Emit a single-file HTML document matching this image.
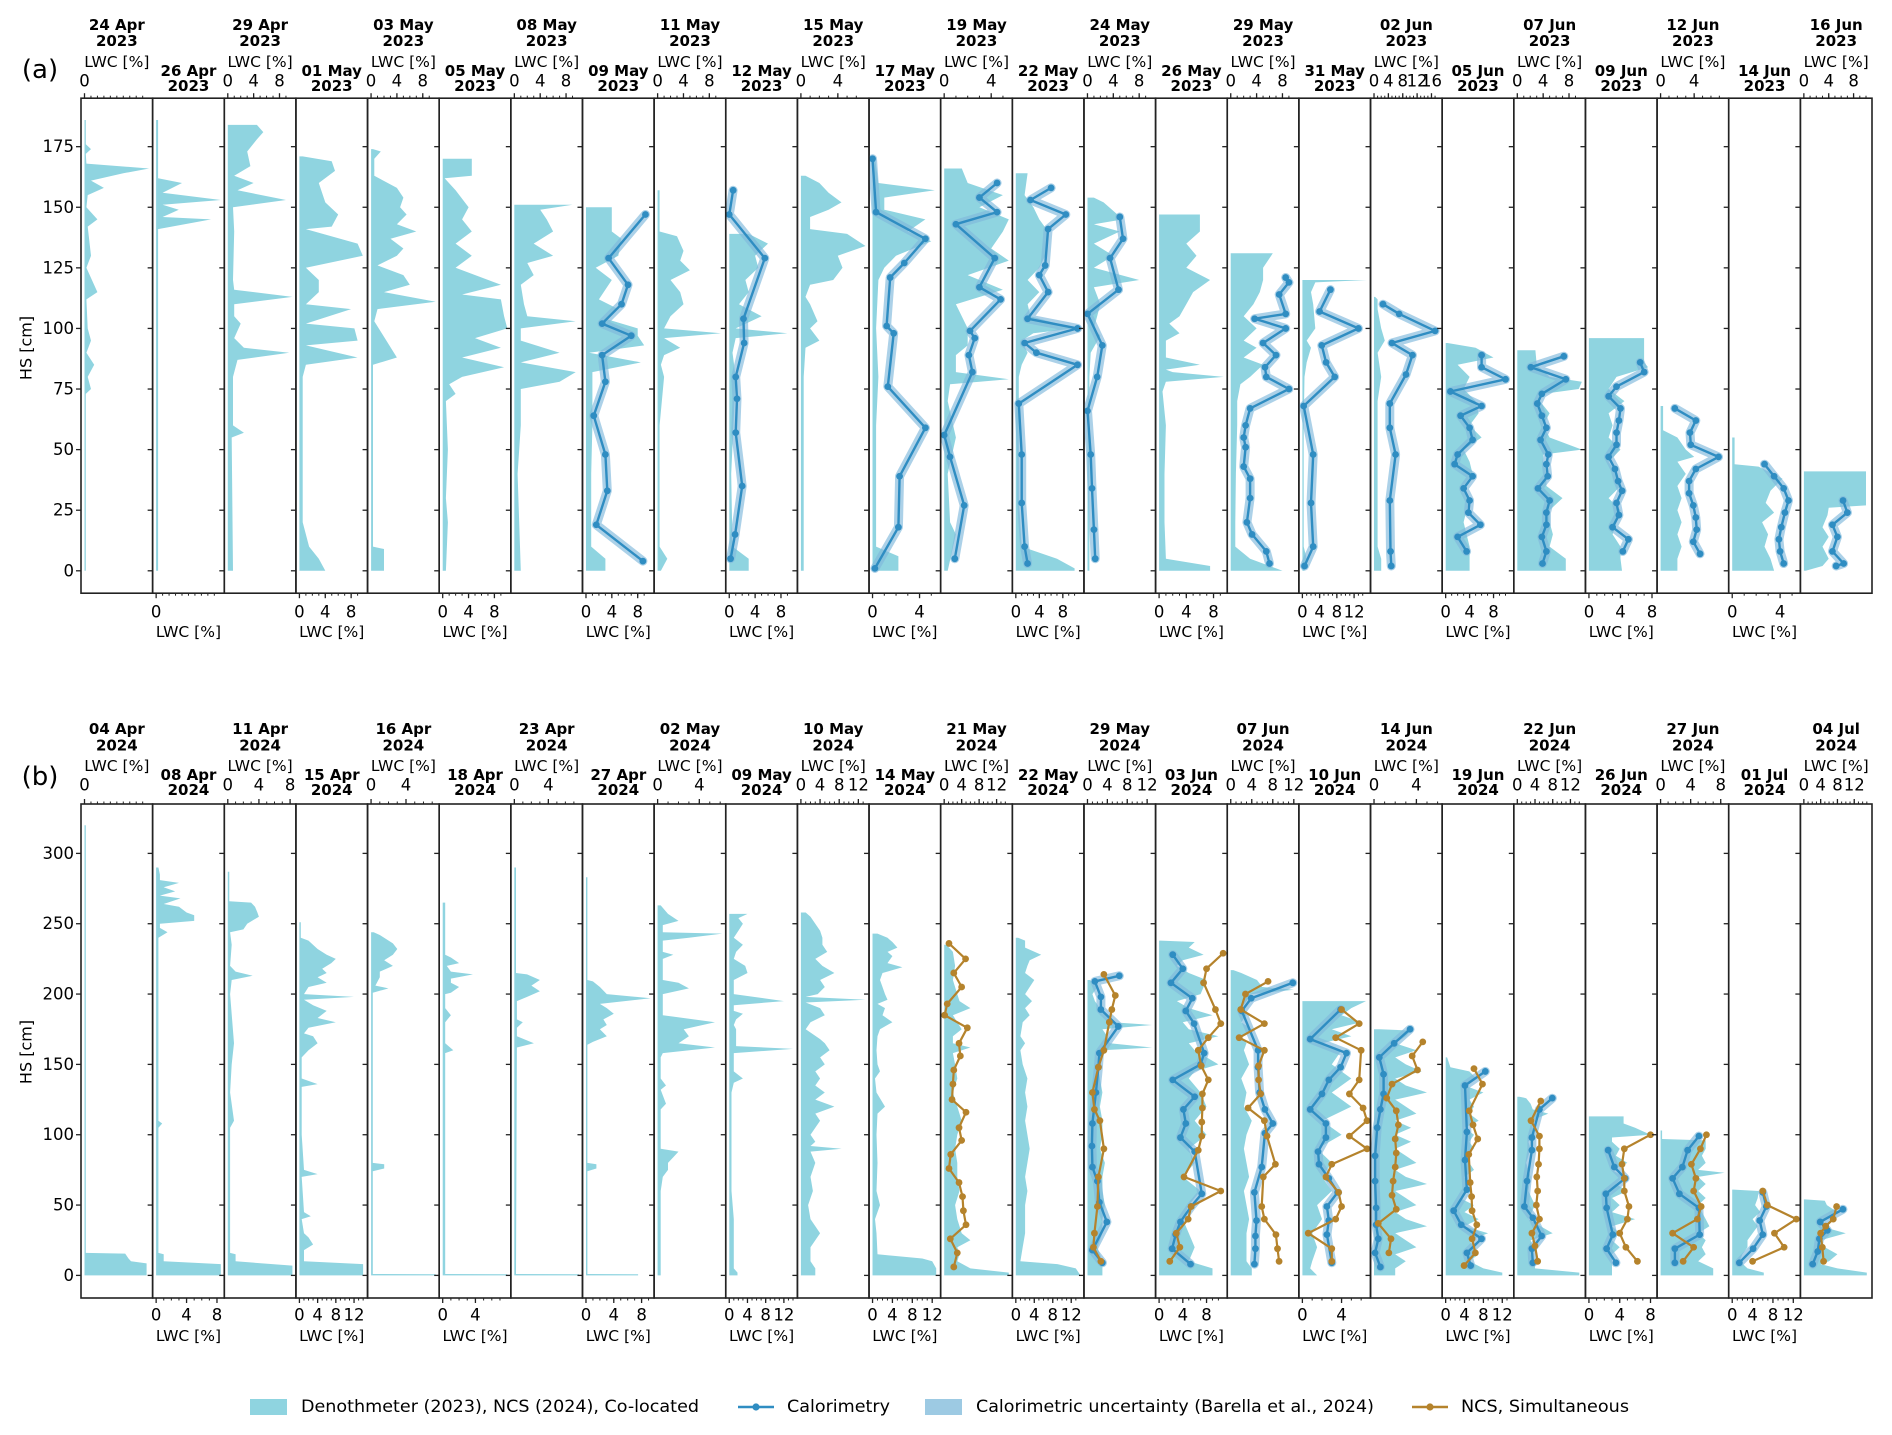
<!DOCTYPE html>
<html><head><meta charset="utf-8">
<style>
html,body{margin:0;padding:0;background:#fff;}
svg{display:block;font-family:"Liberation Sans","DejaVu Sans",sans-serif;}
.t{font-family:"DejaVu Sans","Liberation Sans",sans-serif;}
</style></head>
<body>
<svg id="fig" width="1892" height="1435" viewBox="0 0 1892 1435" xmlns="http://www.w3.org/2000/svg"></svg>
<script>
// ---------- Row (a) 2023 data ----------
const titlesA = ["24 Apr","26 Apr","29 Apr","01 May","03 May","05 May","08 May","09 May","11 May","12 May","15 May","17 May","19 May","22 May","24 May","26 May","29 May","31 May","02 Jun","05 Jun","07 Jun","09 Jun","12 Jun","14 Jun","16 Jun"];
const xmaxA = [10,10,10,10,10,10,10,10,10,10,7,5.5,5.5,11,10,9.5,10,15,18,10.8,10,8.2,7.7,5.4,10.4];
const ticksA = [[0],[0],[0,4,8],[0,4,8],[0,4,8],[0,4,8],[0,4,8],[0,4,8],[0,4,8],[0,4,8],[0,4],[0,4],[0,4],[0,4,8],[0,4,8],[0,4,8],[0,4,8],[0,4,8,12],[0,4,8,12,16],[0,4,8],[0,4,8],[0,4,8],[0,4],[0,4],[0,4,8]];
const fillA = [
[[186,0.2],[176,0.2],[174,1],[172,0.2],[168,0.3],[166,10],[164,6],[161,1],[158,3],[155,0.5],[150,0.3],[145,2],[142,0.5],[130,1],[125,0.3],[115,2],[112,0.3],[100,0.5],[95,1],[90,0.3],[85,1.5],[80,0.5],[75,1],[73,0.2],[0,0.2]],
[[186,0.3],[162,0.3],[160,4],[156,1],[153,10],[151,1],[149,3.5],[146,1],[145,8.5],[141,0.3],[0,0.3]],
[[184,4.5],[181,5.5],[178,4.5],[173,3],[167,3.5],[163,1],[160,4],[157,1.5],[153,9],[150,0.8],[140,1],[120,0.8],[116,1],[113,10],[110,1],[105,1],[102,2],[96,1],[92,2.5],[90,9.5],[87,1.5],[80,0.8],[60,0.8],[57,2.5],[55,0.6],[0,0.8]],
[[171,0.5],[169,5],[165,5.5],[160,3],[152,4],[147,6],[142,5],[141,1],[135,9],[130,9.8],[125,1],[120,3],[115,3],[110,1],[108,8],[102,1],[100,8.5],[95,9],[93,1],[88,9],[85,1],[80,0.5],[20,0.5],[10,1.5],[5,3],[0,4]],
[[174,0.3],[173,1.5],[170,0.5],[163,0.5],[158,4],[154,5],[150,4.5],[147,5.5],[143,4],[140,7],[137,3],[133,5],[130,4],[126,1],[122,5],[118,6],[115,2],[111,10],[108,1],[103,0.5],[88,4],[85,0.3],[30,0.3],[10,0.3],[9,2],[0,2]],
[[170,4.5],[163,4.5],[162,0.3],[157,2],[150,4],[145,3],[140,4.5],[135,2],[130,4.5],[125,2],[118,9],[114,3],[112,9],[105,9.5],[100,10],[96,5],[92,9],[88,3],[84,9.5],[80,3],[77,1],[73,2],[70,0.5],[50,0.8],[30,0.5],[20,0.8],[0,0.5]],
[[151,9],[149,4],[145,5],[140,6],[135,3],[130,6],[127,2],[122,3],[118,1],[110,1.5],[105,2],[103,9.5],[100,1],[95,1],[90,7],[86,1],[82,9.5],[78,7],[75,1],[70,1],[60,1],[40,0.5],[0,1]],
[[150,4],[140,4],[137,5.5],[130,5],[125,1.5],[120,4],[112,2],[108,5],[104,3],[100,8],[97,8],[93,9],[90,0.5],[86,8.5],[82,1],[75,1],[60,1],[40,0.8],[20,0.8],[10,0.8],[5,3],[0,3]],
[[157,0.3],[140,0.3],[138,3],[132,4],[128,3.5],[124,5],[120,2],[115,3.5],[110,4],[105,2],[100,1],[98,9.8],[96,1],[92,3.5],[89,1],[85,0.5],[80,1],[60,0.3],[10,0.3],[5,1.5],[0,0.5]],
[[139,3],[135,6],[130,4],[125,4.5],[120,2.5],[115,3],[110,1.5],[105,5],[100,1],[98,9],[96,1],[90,0.5],[80,1],[40,0.3],[10,0.5],[5,3],[0,3]],
[[163,0.5],[160,2],[156,3],[152,4.4],[149,3],[146,1],[141,1],[139,5],[134,7],[130,4],[125,4.5],[120,3.5],[118,1],[113,0.5],[110,1],[103,1.8],[100,1],[95,2],[92,0.5],[80,0.3],[0,0.3]],
[[171,0.2],[160,0.5],[157,5.3],[154,1],[149,1],[145,4.5],[140,3],[136,5],[130,2],[125,1],[120,0.5],[100,0.3],[80,0.5],[60,0.3],[10,0.3],[6,2.2],[0,2.2]],
[[166,1.5],[160,2],[155,5],[150,3],[145,5.5],[140,5],[133,4],[128,5.5],[122,2],[116,5],[110,1],[100,2],[93,2],[89,1],[82,1],[79,5.5],[77,0.5],[70,0.3],[55,1],[40,0.3],[20,0.5],[15,1],[0,0.3]],
[[164,2],[155,1.5],[150,3],[145,4],[140,5.5],[130,5],[125,4],[120,2],[115,4],[110,2],[105,2.5],[100,10],[98,3],[95,1],[90,2],[85,1],[80,0.5],[60,0.5],[30,0.5],[10,1],[5,7],[1,10],[0,10]],
[[154,1],[152,2.5],[145,5.5],[143,1],[140,5],[135,1],[130,4],[125,1],[120,8],[117,1],[110,2],[100,1],[97,2],[90,0.5],[80,0.3],[0,0.3]],
[[147,6],[140,6],[135,4],[130,5.5],[125,4],[120,7.5],[115,5],[110,4],[105,3],[102,1.5],[98,3],[95,1],[88,1],[85,6],[83,1],[82,2],[80,9.5],[78,1],[74,0.5],[60,1],[40,0.8],[20,0.8],[5,1],[2,7.5],[0,7.5]],
[[131,6.5],[125,5],[120,5],[115,4.5],[110,3.5],[105,2],[100,4],[95,2],[92,4],[88,2],[85,5],[80,3],[77,1.5],[70,1],[60,1],[40,0.8],[20,0.7],[10,0.7],[5,3],[0,8]],
[[120,15],[119,3],[115,2],[110,2.5],[100,3],[95,1],[92,2],[86,1],[80,0.5],[60,0.3],[30,0.3],[10,0.3],[5,1],[0,0.5]],
[[113,0.3],[112,1],[108,1],[100,2],[95,3],[90,1],[80,2],[70,1],[50,1],[30,1],[10,1],[5,2],[0,2]],
[[94,0.3],[92,5],[88,8],[85,2],[80,4],[75,3],[70,5],[65,5.5],[60,4],[55,6],[50,3],[45,4],[40,4.5],[35,3],[30,4],[25,3.5],[20,3],[10,4],[5,4],[0,4]],
[[91,2.8],[85,3],[80,5],[78,10],[75,9.5],[73,4],[70,3.5],[65,5],[60,4],[55,5],[50,10],[48,4],[45,4],[40,4.5],[35,4.5],[30,7],[25,5],[20,5],[15,5.5],[10,5],[5,7.5],[0,7.5]],
[[96,7],[86,7],[84,7.5],[80,3.5],[75,2.5],[70,4.5],[65,2.5],[60,3],[55,2.5],[50,4],[45,2.5],[40,3.5],[35,4],[30,2.5],[25,4],[20,3.5],[15,3],[10,4],[5,4],[0,4.2]],
[[68,0.3],[58,0.3],[55,2],[50,3],[47,4],[45,2],[40,3],[35,2],[30,2.5],[25,2],[20,2.5],[15,2],[10,2.5],[5,2],[0,2]],
[[55,0.2],[44,0.2],[43,2.2],[38,4.2],[33,3.2],[28,2.8],[24,3.5],[20,2.5],[15,3],[10,2.7],[5,3.2],[0,3.5]],
[[41,10],[27,10],[26,4],[23,3.8],[18,3],[14,4],[10,3],[5,4],[2,3],[0,0.3]]
];
const calA = [
[],[],[],[],[],[],[],
[[147,9.2],[129,3.5],[118,6.5],[110,5.5],[102,2.5],[97,7],[89,2.5],[78,3],[64,1.2],[48,3],[33,3.3],[19,1.6],[4,8.8]],
[],
[[157,0.6],[147,0],[129,5.5],[104,2.2],[94,2.3],[80,1],[71,1.2],[57,1],[35,2],[15,0.9],[5,0.2]],
[],
[[170,0],[148,0.3],[137,4.5],[127,2.7],[121,1.5],[101,1.2],[98,1.8],[76,1.3],[59,4.5],[39,2.3],[18,2.2],[1,0.2]],
[[160,4.5],[154,3],[148,4.5],[143,1],[129,4.3],[117,3],[112,4.8],[99,2.2],[96,2.6],[89,2.1],[82,2.4],[56,0],[47,0.5],[27,1.7],[5,0.9]],
[[158,6],[153,2.5],[147,8.5],[141,5.5],[126,5],[122,4],[115,5.5],[104,2],[100,10.5],[94,1.5],[90,3.5],[85,10.5],[69,0.5],[48,1],[28,1],[10,1.5],[3,2]],
[[146,5],[137,5.5],[129,3.5],[116,4.8],[106,0],[93,2.3],[80,1.5],[66,0],[48,0.5],[34,0.7],[17,1],[5,1.2]],
[],
[[121,8.5],[119,9],[114,7.5],[106,8.5],[104,3.7],[100,8.5],[94,5],[89,7],[84,5.3],[80,5.5],[75,9],[67,3],[60,2.3],[55,2],[51,2.3],[43,2],[38,3],[30,3],[20,2.5],[15,3.3],[8,5.5],[3,6]],
[[116,6.5],[107,4],[100,13],[93,4.5],[86,5.5],[80,7.5],[68,0.3],[48,2.5],[28,2],[10,2.5],[2,0.5]],
[[110,2.5],[106,7],[99,17],[94,5],[89,10.7],[81,8.9],[69,4.4],[59,4.4],[48,6],[29,4.4],[8,4.6],[2,4.8]],
[[89,6],[84,6],[79,10],[74,0.8],[68,6],[64,2.5],[59,4],[54,4.5],[48,2],[44,1.5],[39,4.5],[34,3],[29,4],[24,3.8],[19,5.8],[14,2],[8,3.5]],
[[88.5,7.2],[84,2.1],[79,7.5],[73,3.8],[69,3.1],[64,3.8],[59,4.5],[54,3.6],[48,4.8],[44,4.5],[39,4.7],[34,3.2],[29,5],[24,4.5],[19,4.5],[14,3.8],[8,4.5],[3,3.9]],
[[86,6.5],[82,7],[76,3.5],[72,2.5],[67,4],[62,3.8],[57,3.5],[52,3.5],[47,2.5],[42,3.3],[37,3.7],[33,4.2],[28,3.5],[23,3.8],[18,3],[13,5],[8,4.3]],
[[67,1.7],[62,4.2],[57,3.5],[52,3.6],[47,6.9],[42,4.2],[37,3.4],[32,3.4],[27,3.9],[22,4.2],[17,4.3],[12,3.9],[7,4.7]],
[[44,2.7],[39,3.5],[34,4.3],[29,4.7],[24,4.4],[18,4.1],[13,3.9],[8,4],[3,4.3]],
[[29,6.3],[24,7],[19,4.6],[14,5.4],[8,4.6],[3,6.4],[2,5.2]]
];

// ---------- Row (b) 2024 data ----------
const titlesB = ["04 Apr","08 Apr","11 Apr","15 Apr","16 Apr","18 Apr","23 Apr","27 Apr","02 May","09 May","10 May","14 May","21 May","22 May","29 May","03 Jun","07 Jun","10 Jun","14 Jun","19 Jun","22 Jun","26 Jun","27 Jun","01 Jul","04 Jul"];
const xmaxB = [10,8.5,8.3,14.2,7.4,7.9,7.6,9.3,6.2,14.2,13.5,13,14.8,14,13,10.9,12.3,6.6,6.1,13.7,14.6,8.4,8.6,12.7,15.4];
const ticksB = [[0],[0,4,8],[0,4,8],[0,4,8,12],[0,4],[0,4],[0,4],[0,4,8],[0,4],[0,4,8,12],[0,4,8,12],[0,4,8,12],[0,4,8,12],[0,4,8,12],[0,4,8,12],[0,4,8],[0,4,8,12],[0,4],[0,4],[0,4,8,12],[0,4,8,12],[0,4,8],[0,4,8],[0,4,8,12],[0,4,8,12]];
const fillB = [
[[320,0.2],[16,0.2],[15.5,6.3],[12,6.8],[10,7.2],[8.5,9.6],[0,9.6]],
[[290,0.3],[285,0.5],[281,0.5],[279,3],[276,1],[273,2.5],[270,0.5],[268,3.2],[264,1],[262,3],[258,4],[256,5],[252,5],[250,0.5],[247,0.5],[244,1.5],[240,0.3],[110,0.3],[108,0.8],[105,0.3],[16,0.3],[15,1],[10,1],[8,8.5],[0,8.5]],
[[287,0.2],[266,0.2],[265,3],[262,3.5],[258,3.8],[255,4],[250,2.5],[246,2],[244,0.3],[235,0.5],[220,0.3],[216,1],[213,3.2],[210,0.5],[200,0.3],[165,0.8],[150,0.5],[130,0.3],[110,0.8],[105,0.3],[16,0.3],[15,1],[10,1],[7,8.3],[0,8.3]],
[[251,0.3],[240,0.3],[238,2],[232,4],[228,6],[225,8],[222,7],[218,5],[215,6],[212,4],[208,6],[205,2],[200,1],[198,12],[196,1],[192,3],[188,6],[183,4],[180,8],[176,2],[172,1],[170,3],[165,4],[160,2],[155,0.5],[140,0.5],[136,4],[134,0.5],[120,0.5],[100,0.5],[75,1],[72,4],[70,0.5],[45,1],[42,2.5],[40,0.5],[30,1],[27,2],[22,3],[18,1],[10,1],[8,14],[0,14]],
[[244,0.3],[242,1],[236,2.5],[232,3],[228,2.5],[224,1.5],[220,2.5],[216,1],[212,1],[206,0.5],[204,2],[201,0.2],[110,0.2],[80,0.2],[79,1.5],[76,1.5],[74,0.2],[1,0.2],[0.8,7.4],[0,7.4]],
[[265,0.3],[228,0.3],[226,1],[222,2],[220,0.5],[216,1],[214,3.7],[211,1],[208,1],[205,2],[201,1],[200,0.3],[190,0.3],[185,1],[180,0.3],[165,0.3],[160,1.3],[158,0.3],[1,0.3],[0.8,7.9],[0,7.9]],
[[290,0.2],[215,0.2],[214,1.5],[210,3],[206,2],[202,3],[198,1.5],[195,0.3],[182,0.3],[180,1],[176,0.3],[170,0.3],[165,2.3],[162,0.3],[1,0.2],[0.8,7.6],[0,7.6]],
[[283,0.2],[210,0.2],[209,1],[205,2],[200,3],[197,9.3],[193,2],[190,3],[186,4],[182,2.5],[178,3],[175,2],[170,3],[166,1],[164,0.2],[80,0.2],[79,1.5],[76,1.5],[74,0.2],[1,0.2],[0.8,7.5],[0,7.5]],
[[263,0.3],[257,1],[252,2],[249,0.5],[244,0.5],[243,6.2],[240,3],[238,0.5],[230,0.5],[228,1.5],[225,0.5],[210,0.5],[208,2],[204,3],[200,0.5],[185,0.5],[180,5.5],[175,2.5],[170,3],[165,2],[162,5.5],[158,0.5],[155,0.3],[140,0.3],[135,0.8],[132,0.3],[122,0.8],[118,0.3],[90,0.3],[88,2],[84,1.5],[80,1],[75,1],[70,0.5],[60,0.3],[0,0.3]],
[[257,4],[254,2],[250,3],[245,2],[240,1],[235,3],[230,1.5],[225,1],[220,3.5],[215,4],[210,1],[200,1],[195,12],[192,1],[188,1],[186,3],[182,1.5],[178,1],[175,1.5],[163,1.5],[161,14],[158,1],[150,1],[145,1],[140,3],[137,1],[130,0.5],[100,0.5],[60,0.5],[40,1],[20,1],[5,1],[2,1.8],[0,1.8]],
[[258,1],[255,2],[250,3],[245,4],[240,4.5],[235,4.5],[230,5.5],[225,3],[220,4.5],[215,7],[210,4],[205,5],[200,3.5],[198,1],[196,13.5],[194,1],[190,4],[185,5],[180,2],[175,1],[168,4],[165,5],[160,6],[155,4],[150,5],[145,3],[140,4],[135,3],[130,5],[125,3],[120,7],[115,3],[110,4],[105,3],[100,2],[95,3],[92,2],[90,8.5],[88,2],[80,3],[70,2],[60,2.5],[50,1.5],[40,2],[30,4],[20,2],[10,2],[5,3],[0,3]],
[[243,1],[240,3],[237,4],[233,5],[230,3],[227,4],[222,3],[219,6],[215,2],[210,1.5],[205,2],[200,2.5],[196,3],[193,1],[190,2.5],[185,2],[180,4],[175,1.5],[170,1],[160,0.8],[150,1],[145,1.5],[140,0.5],[130,0.8],[120,2.5],[115,1],[100,0.8],[80,1],[60,0.8],[50,1.5],[40,0.5],[30,0.8],[15,1],[12,10],[10,12],[5,12.8],[0,12.8]],
[[235,0.5],[230,2],[220,2.5],[210,2],[200,3],[195,3.5],[190,6],[185,2],[180,3],[175,4],[170,2],[165,2],[162,6],[158,2],[150,2.5],[140,3],[130,2],[120,3],[110,4],[100,3],[90,2.5],[80,3],[70,3],[60,3.5],[50,2.5],[40,3],[30,4],[25,6],[20,3],[15,3.5],[10,3],[5,6],[2,14.8],[0,14.8]],
[[240,0.5],[238,2],[233,2],[228,5.5],[224,3],[220,2.5],[215,2],[210,4],[205,3],[200,2],[195,3.5],[190,2],[185,3],[180,1.5],[170,1],[165,2],[160,1],[150,1.5],[140,2.5],[130,2],[120,2.5],[110,2],[100,2.5],[90,3],[80,2.5],[70,2],[60,2.5],[50,2],[40,2],[30,2],[20,1.5],[10,1],[8,9],[5,13],[0,14]],
[[210,0.5],[205,2],[200,1],[195,1.5],[190,2.5],[185,4],[180,5],[178,13],[175,3],[170,4],[165,4.5],[162,13],[160,3],[155,2.5],[150,2],[140,2.5],[130,3],[120,2.5],[110,3],[100,3],[90,2.5],[80,3.5],[70,3],[60,3],[50,3.5],[40,3],[30,3],[20,2],[10,3],[5,3],[0,3]],
[[238,0.3],[237,6],[233,5],[228,7.5],[224,4],[220,3],[215,5],[210,8],[200,7],[195,3],[190,5],[185,9],[180,4],[175,5],[170,10],[165,5],[160,6],[150,10],[145,6],[140,5],[130,7],[120,8],[110,6],[100,8],[90,5],[80,6],[70,4],[60,7],[50,5],[40,4],[30,5],[20,6],[10,5],[5,9],[0,9]],
[[217,0.5],[215,2],[210,5],[205,6],[203,12],[200,4],[195,3],[190,2],[185,3],[180,2],[175,4],[170,2],[165,3],[160,2.5],[150,3.5],[140,2],[130,3],[120,2.5],[110,4],[100,3],[90,2.5],[80,3],[70,3.5],[60,2.5],[50,3],[40,3.5],[30,3],[20,3],[10,3],[5,4],[0,4]],
[[195,6.5],[190,5],[185,4],[180,6],[175,3],[170,5],[165,2],[160,4],[150,3],[140,5],[130,3],[120,5],[110,2],[100,4],[90,1.5],[80,3],[70,2],[60,3],[50,1.5],[40,2],[30,1],[20,1.5],[10,1],[5,0.8],[0,1.5]],
[[175,0.5],[174,3.5],[170,3],[165,2],[160,4],[155,2],[150,3],[145,4.5],[140,2],[135,3],[130,5],[125,2],[120,3],[115,4],[110,2],[105,3.5],[100,2],[95,3.5],[90,2],[85,3],[80,4],[75,2],[70,3],[65,5],[60,2],[55,3],[50,4],[45,2],[40,3],[35,5],[30,2],[25,3],[20,4],[15,2],[10,3],[5,2],[0,2]],
[[155,0.3],[148,1],[145,5],[140,6.5],[135,4],[130,8],[125,5],[120,6],[115,5],[110,7],[105,4],[100,6],[95,5],[90,6],[85,4],[80,5],[75,6],[70,4],[60,5],[55,3],[50,6],[45,4],[40,7],[35,4],[30,9],[25,5],[20,6],[15,7],[10,5],[5,8],[2,12],[0,12]],
[[127,0.5],[126,2],[122,3],[118,3.5],[115,7],[110,3],[100,4],[95,2.5],[90,3],[80,2],[70,3],[60,2.5],[50,4],[40,2.5],[30,8],[25,3],[20,3.5],[15,3],[10,4],[5,4],[2,14],[0,14]],
[[113,4.5],[108,4.5],[105,6],[100,8],[98,3],[95,3],[90,4],[85,3.5],[80,5],[75,3],[70,4.5],[65,3.5],[60,5],[55,3],[50,4],[45,3],[40,6],[35,3],[30,4],[25,3],[20,4],[15,3],[10,3],[5,3],[0,3]],
[[103,0.2],[97,0.2],[96,6],[90,6],[85,5.5],[80,6],[75,5],[73,8.5],[70,5],[65,6],[60,5],[55,6],[50,5],[45,5.5],[40,6],[35,6.5],[30,5],[25,6],[20,5.5],[15,6],[10,5],[5,7],[0,7]],
[[61,0.3],[60,5.2],[55,5],[50,4.5],[45,5.5],[40,4],[35,5],[30,4],[25,3],[20,3],[15,2],[10,1.5],[5,3],[2,6.2],[0,6.2]],
[[54,0.3],[53,5],[50,5.5],[45,8],[40,5],[35,4],[30,10],[25,4],[20,5],[15,8],[10,6],[8,4],[5,8],[2,15],[0,15]]
];
const calB = [
[],[],[],[],[],[],[],[],[],[],[],[],[],[],
[[213,6.4],[209,1.5],[198,2.7],[189,2.7],[177,6.2],[158,2.4],[148,2.2],[130,1.7],[108,1],[92,0.9],[77,1],[67,2],[52,2.4],[38,3.9],[18,1],[9,3]],
[[228,2.3],[218,4],[208,2],[197,5.6],[188,4.5],[179,5.9],[158,7.6],[150,7],[139,2.3],[127,6],[118,4.1],[108,4.5],[98,3.6],[88,6],[58,7.2],[49,5.4],[38,3.6],[29,2.8],[19,2.2],[8,5.3]],
[[208,11.8],[197,3.9],[188,2.1],[160,5.2],[148,5.2],[130,5.5],[118,6.5],[108,8],[101,6.5],[77,5.9],[59,4.5],[39,4.9],[28,4.7],[19,4.7],[8,4.5]],
[[189,3.9],[168,0.8],[158,4.5],[148,3.9],[139,2.7],[129,2],[118,0.8],[108,2.4],[98,2.4],[88,1.6],[79,1.7],[69,2.7],[59,3.6],[49,2.5],[39,2.7],[29,2.5],[9,3]],
[[175,3.4],[165,1.9],[155,0.5],[143,0.9],[129,0.9],[118,0.6],[105,0.3],[85,0.1],[67,0.1],[48,0.2],[36,0.2],[26,0.4],[16,0.1],[6,0.6]],
[[145,8.4],[135,4.1],[102,4.5],[82,4.1],[61,4.5],[46,1.7],[36,3.3],[26,7.6],[16,4.5],[7,5.3]],
[[126,7.9],[118,5],[98,3.3],[89,3.3],[67,2.2],[49,1.6],[41,3.5],[28,5.5],[19,3.3],[9,3.5]],
[[89,2.5],[77,3.3],[69,4.7],[58,2.2],[48,2.3],[29,3.1],[19,2.3],[9,3.5]],
[[99,5.1],[89,3.6],[77,2.9],[69,1.6],[58,2.5],[48,5.1],[29,5.2],[19,1.9],[9,1.9]],
[[59,6],[49,6.7],[39,5.4],[29,6],[19,4.1],[9,1.4]],
[[47,9.3],[38,3.9],[32,5.6],[26,3.7],[17,3.3],[8,2.1]]
];
const ncsB = [
[],[],[],[],[],[],[],[],[],[],[],[],
[[236,1.1],[225,4.9],[215,2.2],[205,4],[193,0.7],[185,0.1],[176,5.3],[165,3.4],[156,3.7],[146,2.2],[136,2],[125,1.8],[116,5],[105,3.4],[96,4],[86,1.5],[76,1.1],[66,3.4],[56,4.2],[46,4.4],[36,5],[26,1.4],[16,3],[6,2.2]],
[],
[[214,3.3],[199,5.6],[189,4.9],[180,4.4],[160,3.3],[148,2.2],[130,1],[118,1.4],[110,2.5],[90,3.3],[70,2.2],[49,2],[30,1.4],[20,1.2],[10,2.7]],
[[229,10.8],[218,8],[208,7.5],[189,9.5],[179,10.4],[169,8.3],[160,6.6],[149,7.1],[139,8.3],[129,7.3],[119,7.3],[109,7.2],[99,7.2],[89,6.6],[70,4.2],[60,10.4],[49,5.4],[40,4.9],[30,2.9],[20,3.5],[10,1.8]],
[[209,7.1],[200,2.8],[189,1.9],[179,6.4],[169,1.6],[160,6.4],[149,5.3],[139,5.3],[129,5.7],[119,3.3],[110,6.4],[99,6.9],[79,8.5],[70,6.2],[49,5.9],[40,6.4],[29,8.6],[19,8.9],[10,9.2]],
[[189,4],[179,5.8],[169,3.4],[160,6],[139,5.8],[129,4.8],[119,6.2],[110,6.6],[99,4.8],[90,6.6],[79,3],[70,2.4],[59,3.7],[49,4],[40,3.4],[30,0.6],[19,3],[10,3]],
[[166,4.6],[156,3.6],[146,4.1],[136,1.7],[126,1.2],[117,2.1],[107,2.3],[97,2],[87,2.1],[77,2],[67,1.8],[57,1.7],[47,2.1],[37,0.4],[26,1.6],[16,1.4]],
[[147,6],[136,7.8],[117,5],[107,5.8],[97,6.8],[86,4.9],[66,5.2],[56,5.5],[46,5.6],[36,6.6],[26,5.6],[16,6.3],[7,3.9]],
[[124,5.3],[110,3.1],[99,5],[90,5],[79,4.8],[70,4.4],[60,4.6],[50,4.3],[40,5],[30,3.3],[21,4],[10,4.6]],
[[100,8],[90,4.6],[79,4.3],[69,4.6],[60,4.6],[49,5.2],[40,5],[30,4],[20,4.8],[10,6.3]],
[[100,6.1],[90,5.3],[79,4.1],[69,4.7],[60,4.4],[49,5.4],[40,4.9],[30,1.6],[20,4.4],[10,3]],
[[60,6],[50,6.9],[40,12.6],[30,8.3],[20,10.2],[10,4]],
[[49,7.8],[40,7],[35,5.2],[30,4],[20,4.4],[10,4.7]]
];
const yTicksA = [0,25,50,75,100,125,150,175];
const yTicksB = [0,50,100,150,200,250,300];

// ---------- layout ----------
const NS = "http://www.w3.org/2000/svg";
const svg = document.getElementById("fig");
const X0 = 81, PW = 71.64, NP = 25;
const rows = [
  {key:"a", label:"(a)", year:"2023", top:98.2, bottom:593.2, yZero:570.8, pxPerCm:2.4236, titles:titlesA, xmax:xmaxA, ticks:ticksA, fill:fillA, cal:calA, ncs:null, yTicks:yTicksA,
   t1:25, t2:41, lwcTop:62, tickTop:81, o1:71, o2:86, tickBot:612, lwcBot:632, hsY:348, labY:70},
  {key:"b", label:"(b)", year:"2024", top:804, bottom:1298, yZero:1275.4, pxPerCm:1.4067, titles:titlesB, xmax:xmaxB, ticks:ticksB, fill:fillB, cal:calB, ncs:ncsB, yTicks:yTicksB,
   t1:729, t2:745.5, lwcTop:766, tickTop:785, o1:775, o2:790, tickBot:1315, lwcBot:1336, hsY:1052, labY:777}
];
function el(tag, attrs, parent){
  const e = document.createElementNS(NS, tag);
  for (const k in attrs) e.setAttribute(k, attrs[k]);
  (parent||svg).appendChild(e);
  return e;
}
function txt(s, x, y, size, opts, parent){
  const e = el("text", Object.assign({x:x, y:y, "font-size":size, "text-anchor":"middle", "dominant-baseline":"central", fill:"#000"}, opts||{}), parent);
  e.textContent = s;
  return e;
}
const FILL="#8fd4e0", CAL="#2f8dc2", BAND="#7fb9dc", NCS="#b5832c";

rows.forEach(function(R){
  const g = el("g", {});
  
  
  const yOf = function(h){ return R.yZero - h*R.pxPerCm; };
  const lab = txt(R.label, 40, R.labY, 26, {"class":"t"}, g);
  
  
  const hs = txt("HS [cm]", 26, R.hsY, 16, {"class":"t", transform:"rotate(-90 26 "+R.hsY+")"}, g);
  
  
  R.yTicks.forEach(function(v){
    const t = txt(String(v), 74, yOf(v), 16.5, {"class":"t","text-anchor":"end"}, g);
    
    
  });
  for (let i=0;i<NP;i++){
    const L = X0 + i*PW;
    const xm = R.xmax[i];
    const xOf = function(v){ return L + 3.5 + v/xm*(PW-7); };
    const pg = el("g", {}, g);
    
    
    const clipId = "c"+R.key+i;
    const cp = el("clipPath", {id:clipId}, pg);
    el("rect", {x:L, y:R.top, width:PW, height:R.bottom-R.top}, cp);
    const inner = el("g", {"clip-path":"url(#"+clipId+")"}, pg);
    const f = R.fill[i];
    if (f.length){
      let pts = [[xOf(0), yOf(f[0][0])]];
      f.forEach(function(p){ pts.push([xOf(p[1]), yOf(p[0])]); });
      pts.push([xOf(0), yOf(f[f.length-1][0])]);
      const poly = el("polygon", {points: pts.map(function(p){return p[0].toFixed(1)+","+p[1].toFixed(1);}).join(" "), fill:FILL, stroke:"none"}, inner);
      
      
    }
    const c = R.cal[i];
    if (c && c.length){
      const cpts = c.map(function(p){ return xOf(p[1]).toFixed(1)+","+yOf(p[0]).toFixed(1); }).join(" ");
      const band = el("polyline", {points:cpts, fill:"none", stroke:BAND, "stroke-width":9, "stroke-opacity":0.65, "stroke-linejoin":"round", "stroke-linecap":"round"}, inner);
      
      
      const ln = el("polyline", {points:cpts, fill:"none", stroke:CAL, "stroke-width":2.4, "stroke-linejoin":"round"}, inner);
      
      
      c.forEach(function(p){
        const d = el("circle", {cx:xOf(p[1]), cy:yOf(p[0]), r:3.4, fill:CAL}, inner);
        
        
      });
    }
    const n = R.ncs ? R.ncs[i] : null;
    if (n && n.length){
      const npts = n.map(function(p){ return xOf(p[1]).toFixed(1)+","+yOf(p[0]).toFixed(1); }).join(" ");
      const ln2 = el("polyline", {points:npts, fill:"none", stroke:NCS, "stroke-width":2.2, "stroke-linejoin":"round"}, inner);
      
      
      n.forEach(function(p){
        const d = el("circle", {cx:xOf(p[1]), cy:yOf(p[0]), r:3.4, fill:NCS}, inner);
        
        
      });
    }
    const fr = el("rect", {x:L, y:R.top, width:PW, height:R.bottom-R.top, fill:"none", stroke:"#222", "stroke-width":1.6}, pg);
    
    
    R.yTicks.forEach(function(v){
      el("line", {x1:L-5, x2:L, y1:yOf(v), y2:yOf(v), stroke:"#222", "stroke-width":1.3}, pg);
    });
    const isTop = (i % 2 === 0);
    const ay = isTop ? R.top : R.bottom;
    const dir = isTop ? -1 : 1;
    for (let m=1; m<xm; m++){
      el("line", {x1:xOf(m), x2:xOf(m), y1:ay, y2:ay+dir*2.5, stroke:"#222", "stroke-width":1}, pg);
    }
    R.ticks[i].forEach(function(v){
      el("line", {x1:xOf(v), x2:xOf(v), y1:ay, y2:ay+dir*5, stroke:"#222", "stroke-width":1.3}, pg);
      const tl = txt(String(v), xOf(v), isTop ? R.tickTop : R.tickBot, 16.5, {"class":"t"}, pg);
      
      
    });
    const cx = L + PW/2;
    const lw = txt("LWC [%]", cx, isTop ? R.lwcTop : R.lwcBot, 15.5, {"class":"t"}, pg);
    
    
    const ty1 = isTop ? R.t1 : R.o1, ty2 = isTop ? R.t2 : R.o2;
    const tt = txt(R.titles[i], cx, ty1, 15, {"class":"t","font-weight":"bold"}, pg);
    
    
    const ty = txt(R.year, cx, ty2, 15, {"class":"t","font-weight":"bold"}, pg);
    
    
  }
});

// ---------- legend ----------
const lg = el("g", {});


const LY = 1407;
const s1 = el("rect", {x:250, y:LY-8, width:37, height:16, fill:FILL}, lg);


const l1 = txt("Denothmeter (2023), NCS (2024), Co-located", 301, LY, 17, {"text-anchor":"start","class":"t","textLength":398,"lengthAdjust":"spacingAndGlyphs"}, lg);


el("line", {x1:738, x2:774, y1:LY, y2:LY, stroke:CAL, "stroke-width":2.4}, lg);
const m1 = el("circle", {cx:756, cy:LY, r:3.6, fill:CAL}, lg);


const l2 = txt("Calorimetry", 787, LY, 17, {"text-anchor":"start","class":"t","textLength":103,"lengthAdjust":"spacingAndGlyphs"}, lg);


const s2 = el("rect", {x:925, y:LY-8, width:37, height:16, fill:"#9dcae3"}, lg);


const l3 = txt("Calorimetric uncertainty (Barella et al., 2024)", 976, LY, 17, {"text-anchor":"start","class":"t","textLength":398,"lengthAdjust":"spacingAndGlyphs"}, lg);


el("line", {x1:1412, x2:1448, y1:LY, y2:LY, stroke:NCS, "stroke-width":2.4}, lg);
const m2 = el("circle", {cx:1430, cy:LY, r:3.6, fill:NCS}, lg);


const l4 = txt("NCS, Simultaneous", 1461, LY, 17, {"text-anchor":"start","class":"t","textLength":168,"lengthAdjust":"spacingAndGlyphs"}, lg);


</script>
</body></html>
